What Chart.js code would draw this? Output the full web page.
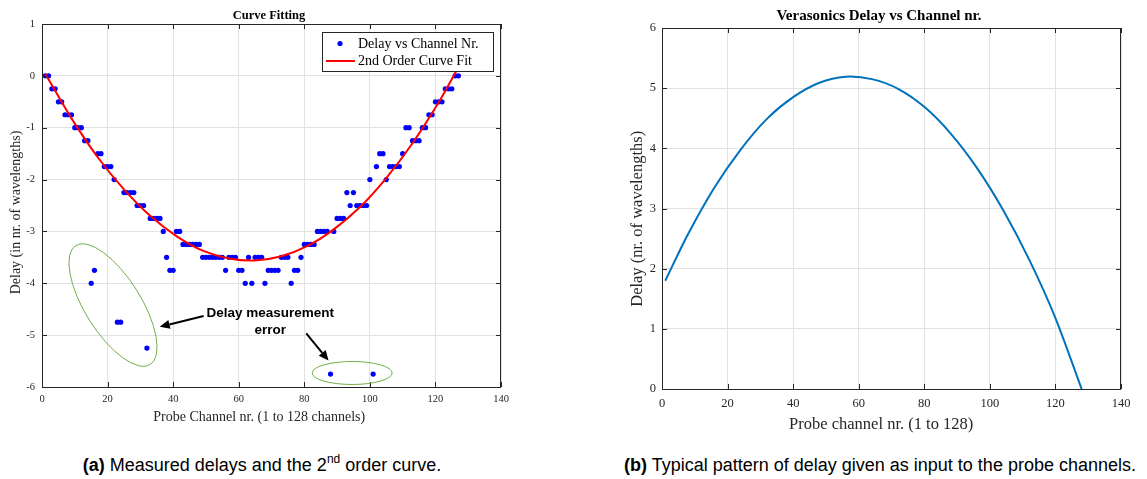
<!DOCTYPE html>
<html>
<head>
<meta charset="utf-8">
<script src="https://cdn.jsdelivr.net/npm/chart.js@4.4.1/dist/chart.umd.min.js"></script>
<style>
  body { margin: 0; background: #fff; width: 1147px; height: 479px; position: relative; overflow: hidden; }
  canvas { position: absolute; top: 0; }
  #curveFit { left: 0; }
  #inputDelay { left: 580px; }
  .cap { position: absolute; top: 455px; line-height: 20px; font: 18px "Liberation Sans", Arial, sans-serif;
         color: #000; white-space: nowrap; transform: translateX(-50%); }
  .cap sup { font-size: 12px; line-height: 0; position: relative; top: -1px; }
</style>
</head>
<body>
<canvas id="curveFit" width="580" height="440"></canvas>
<canvas id="inputDelay" width="567" height="440"></canvas>
<div class="cap" style="left:262px"><b>(a)</b> Measured delays and the 2<sup>nd</sup> order curve.</div>
<div class="cap" style="left:880px"><b>(b)</b> Typical pattern of delay given as input to the probe channels.</div>

<script>
// ---- data ----
const channels = [
  1, 2, 3, 4, 5, 6, 7, 8, 9, 10, 11, 12, 13, 14, 15, 16, 17, 18, 19, 20,
  21, 22, 23, 24, 25, 26, 27, 28, 29, 30, 31, 32, 33, 34, 35, 36, 37, 38, 39, 40,
  41, 42, 43, 44, 45, 46, 47, 48, 49, 50, 51, 52, 53, 54, 55, 56, 57, 58, 59, 60,
  61, 62, 63, 64, 65, 66, 67, 68, 69, 70, 71, 72, 73, 74, 75, 76, 77, 78, 79, 80,
  81, 82, 83, 84, 85, 86, 87, 88, 89, 90, 91, 92, 93, 94, 95, 96, 97, 98, 99, 100,
  101, 102, 103, 104, 105, 106, 107, 108, 109, 110, 111, 112, 113, 114, 115, 116, 117, 118, 119, 120,
  121, 122, 123, 124, 125, 126, 127
];
const measuredDelay = [
  0, 0, -0.25, -0.25, -0.5, -0.5, -0.75, -0.75, -0.75, -1,
  -1, -1, -1.25, -1.25, -4, -3.75, -1.5, -1.5, -1.75, -1.75,
  -1.75, -2, -4.75, -4.75, -2.25, -2.25, -2.25, -2.25, -2.5, -2.5,
  -2.5, -5.25, -2.75, -2.75, -2.75, -2.75, -3, -3.5, -3.75, -3.75,
  -3, -3, -3.25, -3.25, -3.25, -3.25, -3.25, -3.25, -3.5, -3.5,
  -3.5, -3.5, -3.5, -3.5, -3.5, -3.75, -3.5, -3.5, -3.5, -3.75,
  -3.75, -4, -3.5, -4, -3.5, -3.5, -3.5, -4, -3.75, -3.75,
  -3.75, -3.75, -3.5, -3.5, -3.5, -4, -3.75, -3.75, -3.5, -3.25,
  -3.25, -3.25, -3.25, -3, -3, -3, -3, -5.75, -3, -2.75,
  -2.75, -2.75, -2.25, -2.5, -2.25, -2.5, -2.5, -2.5, -2.5, -2,
  -5.75, -1.75, -1.5, -1.5, -2, -1.75, -1.75, -1.75, -1.75, -1.5,
  -1, -1, -1.25, -1.25, -1.25, -1, -1, -0.75, -0.75, -0.5,
  -0.5, -0.5, -0.25, -0.25, -0.25, 0, 0
];
const fitChannels = [1, 9, 17, 25, 33, 41, 49, 57, 65, 73, 81, 89, 97, 105, 113, 121, 128];
const fitDelay = [0.04, -0.82, -1.57, -2.19, -2.70, -3.09, -3.37, -3.52, -3.56, -3.48, -3.28, -2.96, -2.53, -1.97, -1.30, -0.51, 0.28];

const probeChannels = [1, 8, 16, 24, 32, 40, 48, 56, 64, 72, 80, 88, 96, 104, 112, 120, 128];
const inputDelay = [1.80, 2.58, 3.35, 3.98, 4.49, 4.85, 5.09, 5.19, 5.15, 4.99, 4.69, 4.25, 3.68, 2.98, 2.15, 1.18, 0.0];

const xTickValues = [0, 20, 40, 60, 80, 100, 120, 140];
const yTicksFit = [-6, -5, -4, -3, -2, -1, 0, 1];
const yTicksInput = [0, 1, 2, 3, 4, 5, 6];

// ---- styling ----
const SERIF = '"Liberation Serif", "Times New Roman", serif';
const SANS = '"Liberation Sans", Arial, sans-serif';
const AXIS_COLOR = '#262626';
const GRID_COLOR = '#e2e2e2';
const NB = '\u00a0'; // labels in the figure sit a bit off centre

function toPoints(xs, ys) {
  return xs.map((x, i) => ({ x: x, y: ys[i] }));
}

// box, inward ticks and title like a matlab axes
function framePlugin(title, titleFont, titleShift, titleGap) {
  return {
    id: 'frame',
    afterDatasetsDraw(chart) {
      const { ctx, chartArea: a, scales: { x, y } } = chart;
      ctx.save();
      ctx.strokeStyle = AXIS_COLOR;
      ctx.lineWidth = 1;
      ctx.beginPath();
      x.ticks.forEach(t => {
        const px = Math.round(x.getPixelForValue(t.value)) + 0.5;
        ctx.moveTo(px, a.bottom); ctx.lineTo(px, a.bottom - 5);
        ctx.moveTo(px, a.top); ctx.lineTo(px, a.top + 5);
      });
      y.ticks.forEach(t => {
        const py = Math.round(y.getPixelForValue(t.value)) + 0.5;
        ctx.moveTo(a.left, py); ctx.lineTo(a.left + 5, py);
        ctx.moveTo(a.right, py); ctx.lineTo(a.right - 5, py);
      });
      ctx.stroke();
      ctx.strokeRect(a.left + 0.5, a.top + 0.5, a.right - a.left - 1, a.bottom - a.top);
      ctx.fillStyle = '#000';
      ctx.font = titleFont;
      ctx.textAlign = 'center';
      ctx.textBaseline = 'middle';
      ctx.fillText(title, (a.left + a.right) / 2 + titleShift, a.top - titleGap);
      ctx.restore();
    }
  };
}

// annotations on the curve fitting plot (positions in data units, sizes in px)
const outlierMarks = {
  ellipses: [
    { x: 21.65, y: -4.42, rx: 70, ry: 28, rot: 58 },
    { x: 94.6, y: -5.73, rx: 40, ry: 11.5, rot: 0 }
  ],
  arrows: [
    { from: [49.3, -4.63], to: [35.9, -4.84] },
    { from: [80.6, -4.965], to: [87.4, -5.49] }
  ],
  label: { x: 69.6, y: -4.58, lines: ['Delay measurement', 'error'] }
};

const annotationPlugin = {
  id: 'outliers',
  afterDatasetsDraw(chart) {
    const { ctx, scales: { x, y } } = chart;
    ctx.save();
    ctx.strokeStyle = '#70ad47';
    ctx.lineWidth = 1;
    outlierMarks.ellipses.forEach(e => {
      ctx.beginPath();
      ctx.ellipse(x.getPixelForValue(e.x), y.getPixelForValue(e.y), e.rx, e.ry, e.rot * Math.PI / 180, 0, 2 * Math.PI);
      ctx.stroke();
    });
    ctx.strokeStyle = '#000';
    ctx.fillStyle = '#000';
    ctx.lineWidth = 2;
    outlierMarks.arrows.forEach(ar => {
      const x0 = x.getPixelForValue(ar.from[0]), y0 = y.getPixelForValue(ar.from[1]);
      const x1 = x.getPixelForValue(ar.to[0]), y1 = y.getPixelForValue(ar.to[1]);
      const ang = Math.atan2(y1 - y0, x1 - x0);
      const head = 10, half = 4.5;
      const bx = x1 - head * Math.cos(ang), by = y1 - head * Math.sin(ang);
      ctx.beginPath();
      ctx.moveTo(x0, y0); ctx.lineTo(bx, by);
      ctx.stroke();
      ctx.beginPath();
      ctx.moveTo(x1, y1);
      ctx.lineTo(bx + half * Math.sin(ang), by - half * Math.cos(ang));
      ctx.lineTo(bx - half * Math.sin(ang), by + half * Math.cos(ang));
      ctx.closePath();
      ctx.fill();
    });
    const lb = outlierMarks.label;
    ctx.font = 'bold 13.5px ' + SANS;
    ctx.textAlign = 'center';
    ctx.textBaseline = 'middle';
    const lx = x.getPixelForValue(lb.x), ly = y.getPixelForValue(lb.y);
    lb.lines.forEach((s, i) => ctx.fillText(s, lx, ly + i * 17));
    ctx.restore();
  }
};

// legend box in the upper right corner
const legendPlugin = {
  id: 'boxLegend',
  afterDraw(chart) {
    const { ctx, chartArea: a } = chart;
    const ds = chart.data.datasets;
    const w = 171, h = 39;
    const bx = a.right - 8 - w, by = a.top + 8;
    ctx.save();
    ctx.fillStyle = '#fff';
    ctx.fillRect(bx, by, w, h);
    ctx.strokeStyle = AXIS_COLOR;
    ctx.lineWidth = 1;
    ctx.strokeRect(bx + 0.5, by + 0.5, w, h);
    ctx.font = '14px ' + SERIF;
    ctx.textAlign = 'left';
    ctx.textBaseline = 'middle';
    // scatter entry
    ctx.fillStyle = ds[0].backgroundColor;
    ctx.beginPath();
    ctx.arc(bx + 18, by + 11.5, 2.6, 0, 2 * Math.PI);
    ctx.fill();
    ctx.fillStyle = '#000';
    ctx.fillText(ds[0].label, bx + 36, by + 12);
    // line entry
    ctx.strokeStyle = ds[1].borderColor;
    ctx.lineWidth = 2;
    ctx.beginPath();
    ctx.moveTo(bx + 4, by + 29); ctx.lineTo(bx + 33, by + 29);
    ctx.stroke();
    ctx.fillText(ds[1].label, bx + 36, by + 29);
    ctx.restore();
  }
};

function axisX(fontSize, pad, titleText, titleFontSize, titlePad, height) {
  return {
    type: 'linear', min: 0, max: 140,
    afterBuildTicks: s => { s.ticks = xTickValues.map(v => ({ value: v })); },
    afterFit: s => { s.height = height; },
    grid: { color: GRID_COLOR, drawTicks: false },
    border: { display: false },
    ticks: { color: AXIS_COLOR, font: { family: SERIF, size: fontSize }, padding: pad, maxRotation: 0, autoSkip: false },
    title: { display: true, text: titleText, color: AXIS_COLOR,
             font: { family: SERIF, size: titleFontSize, lineHeight: 1 }, padding: { top: 0, bottom: titlePad } }
  };
}

function axisY(min, max, tickValues, fontSize, pad, titleText, titleFontSize, titlePad, width) {
  return {
    type: 'linear', min: min, max: max,
    afterBuildTicks: s => { s.ticks = tickValues.map(v => ({ value: v })); },
    afterFit: s => { s.width = width; },
    grid: { color: GRID_COLOR, drawTicks: false },
    border: { display: false },
    ticks: { color: AXIS_COLOR, font: { family: SERIF, size: fontSize }, padding: pad, autoSkip: false },
    title: { display: true, text: titleText, color: AXIS_COLOR,
             font: { family: SERIF, size: titleFontSize, lineHeight: 1 }, padding: { top: titlePad, bottom: 0 } }
  };
}

new Chart(document.getElementById('curveFit'), {
  type: 'scatter',
  data: {
    datasets: [{
      label: 'Delay vs Channel Nr.',
      data: toPoints(channels, measuredDelay),
      backgroundColor: '#0000ff',
      pointRadius: 2.6,
      pointBorderWidth: 0,
      order: 2
    }, {
      label: '2nd Order Curve Fit',
      data: toPoints(fitChannels, fitDelay),
      showLine: true,
      borderColor: '#ff0000',
      borderWidth: 2,
      pointRadius: 0,
      tension: 0.3,
      order: 1
    }]
  },
  options: {
    responsive: false,
    animation: false,
    devicePixelRatio: 1,
    layout: { padding: { left: 0, right: 79, top: 24, bottom: 0 } },
    plugins: { legend: { display: false }, tooltip: { enabled: false } },
    scales: {
      x: axisX(10.5, 6, 'Probe Channel nr. (1 to 128 channels)' + NB.repeat(7), 14, 16, 53),
      y: axisY(-6, 1, yTicksFit, 10.5, 7, 'Delay (in nr. of wavelengths)' + NB.repeat(4), 14, 9, 42)
    }
  },
  plugins: [framePlugin('Curve Fitting', 'bold 12.5px ' + SERIF, -2.5, 8.5), annotationPlugin, legendPlugin]
});

new Chart(document.getElementById('inputDelay'), {
  type: 'scatter',
  data: {
    datasets: [{
      label: 'Delay',
      data: toPoints(probeChannels, inputDelay),
      showLine: true,
      borderColor: '#0072bd',
      borderWidth: 2,
      pointRadius: 0,
      tension: 0.3
    }]
  },
  options: {
    responsive: false,
    animation: false,
    devicePixelRatio: 1,
    layout: { padding: { left: 0, right: 26, top: 28, bottom: 0 } },
    plugins: { legend: { display: false }, tooltip: { enabled: false } },
    scales: {
      x: axisX(12.5, 7, 'Probe channel nr. (1 to 128)' + NB.repeat(5), 16.5, 7, 51),
      y: axisY(0, 6, yTicksInput, 12.5, 6, 'Delay (nr. of wavelengths)' + NB.repeat(5), 16.5, 49, 82)
    }
  },
  plugins: [framePlugin('Verasonics Delay vs Channel nr.', 'bold 15px ' + SERIF, -12.5, 12)]
});
</script>
</body>
</html>
